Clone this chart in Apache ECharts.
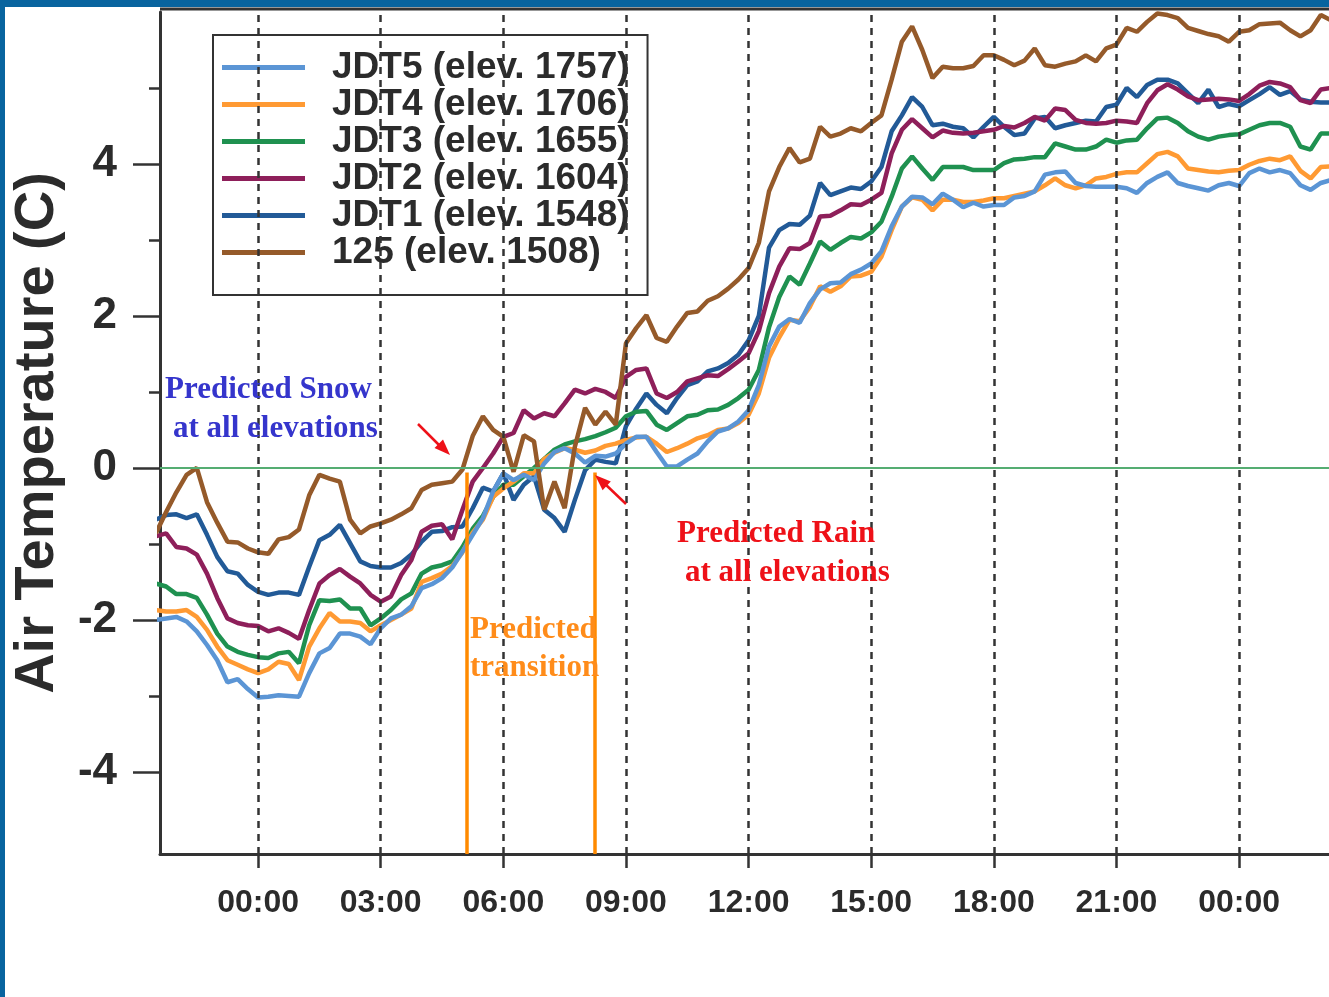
<!DOCTYPE html>
<html lang="en">
  <head>
    <meta charset="UTF-8" />
    <meta name="viewport" content="width=device-width, initial-scale=1.0" />
    <script src="https://cdn.jsdelivr.net/npm/echarts@6/dist/echarts.min.js"></script>
    <title>Air Temperature</title>
    <style>
      html,
      body {
        margin: 0;
        padding: 0;
        background: #fff;
      }
      #app {
        width: 1329px;
        height: 997px;
      }
    </style>
  </head>
  <body>
    <div id="app"></div>

    <script>
      // logger samples every 15 min, first one at 21:30 the evening before (hour -2.5)
      const firstHour = -2.5;
      const stepHours = 0.25;

      const jdt5 = [
        -2.0, -1.98, -1.96, -2.02, -2.15, -2.33, -2.53, -2.82, -2.78, -2.91,
        -3.02, -3.01, -2.99, -3.0, -3.01, -2.7, -2.44, -2.37, -2.18, -2.18,
        -2.22, -2.32, -2.11, -1.98, -1.93, -1.82, -1.58, -1.53, -1.45, -1.31,
        -1.1, -0.88, -0.66, -0.31, -0.07, -0.16, -0.09, -0.16, 0.06, 0.21,
        0.26, 0.19, 0.07, 0.16, 0.15, 0.19, 0.32, 0.41, 0.41, 0.21,
        0.02, 0.02, 0.11, 0.19, 0.35, 0.48, 0.52, 0.61, 0.76, 1.09,
        1.6, 1.86, 1.96, 1.91, 2.17, 2.35, 2.43, 2.44, 2.55, 2.61,
        2.69, 2.85, 3.18, 3.44, 3.57, 3.56, 3.47, 3.61, 3.53, 3.43,
        3.49, 3.44, 3.46, 3.46, 3.56, 3.58, 3.64, 3.86, 3.89, 3.9,
        3.75, 3.71, 3.7, 3.7, 3.7, 3.68, 3.62, 3.75, 3.83, 3.89,
        3.75, 3.71, 3.68, 3.65, 3.72, 3.75, 3.71, 3.88, 3.94, 3.89,
        3.92, 3.88, 3.72, 3.66, 3.75, 3.79,
      ];
      const jdt4 = [
        -1.87, -1.89, -1.89, -1.87, -1.96, -2.13, -2.35, -2.53, -2.59, -2.65,
        -2.7, -2.65, -2.55, -2.58, -2.79, -2.35, -2.11, -1.91, -2.02, -2.02,
        -2.04, -2.15, -2.07, -2.0, -1.93, -1.85, -1.5, -1.45, -1.39, -1.29,
        -1.11, -0.85, -0.68, -0.38, -0.27, -0.18, -0.07, -0.07, 0.12, 0.2,
        0.26, 0.24, 0.2, 0.23, 0.29, 0.32, 0.37, 0.4, 0.41, 0.32,
        0.21, 0.26, 0.32, 0.39, 0.43, 0.5, 0.52, 0.59, 0.7, 0.98,
        1.45, 1.72, 1.95, 1.93, 2.12, 2.39, 2.32, 2.39, 2.52, 2.53,
        2.58, 2.78, 3.13, 3.44, 3.56, 3.53, 3.39, 3.53, 3.53, 3.5,
        3.5, 3.52, 3.55, 3.55, 3.58, 3.61, 3.64, 3.72, 3.81, 3.72,
        3.68, 3.72, 3.81, 3.83, 3.87, 3.89, 3.89, 4.01, 4.13, 4.16,
        4.1, 3.94, 3.92, 3.9, 3.89, 3.91, 3.92, 3.99, 4.04, 4.07,
        4.05, 4.1, 3.91, 3.81, 3.96, 3.97,
      ];
      const jdt3 = [
        -1.52, -1.56, -1.66, -1.66, -1.71, -1.93, -2.18, -2.35, -2.42, -2.46,
        -2.49, -2.5, -2.44, -2.42, -2.57, -2.07, -1.74, -1.75, -1.73, -1.85,
        -1.85, -2.07, -1.98, -1.87, -1.73, -1.65, -1.39, -1.31, -1.28, -1.23,
        -1.04, -0.8, -0.63, -0.38, -0.22, -0.22, -0.11, 0.0, 0.12, 0.24,
        0.31, 0.35, 0.38, 0.42, 0.47, 0.53, 0.68, 0.74, 0.75, 0.57,
        0.5, 0.59, 0.68, 0.7, 0.76, 0.77, 0.83, 0.92, 1.03, 1.29,
        1.85, 2.25, 2.52, 2.41, 2.69, 2.98, 2.87, 2.96, 3.04, 3.02,
        3.1, 3.24, 3.57, 3.94, 4.1, 3.94, 3.79, 3.96, 3.96, 3.96,
        3.92, 3.92, 3.92, 4.01, 4.06, 4.07, 4.09, 4.09, 4.27, 4.23,
        4.19, 4.19, 4.23, 4.32, 4.28, 4.31, 4.32, 4.47, 4.6, 4.61,
        4.54, 4.43, 4.36, 4.32, 4.36, 4.38, 4.39, 4.45, 4.51, 4.54,
        4.54, 4.49, 4.23, 4.19, 4.4, 4.4,
      ];
      const jdt2 = [
        -0.9, -0.86, -1.04, -1.06, -1.14, -1.39, -1.71, -1.98, -2.04, -2.07,
        -2.08, -2.15, -2.11, -2.17, -2.25, -1.87, -1.52, -1.41, -1.33, -1.43,
        -1.52, -1.67, -1.76, -1.69, -1.41, -1.21, -0.84, -0.76, -0.74, -0.94,
        -0.55, -0.18, 0.0, 0.19, 0.41, 0.46, 0.76, 0.65, 0.72, 0.68,
        0.85, 1.03, 0.98, 1.04, 1.0, 0.92, 1.2, 1.29, 1.31, 0.98,
        0.92, 1.0, 1.14, 1.18, 1.22, 1.21, 1.3, 1.4, 1.51, 1.8,
        2.3, 2.65, 2.89, 2.88, 2.96, 3.31, 3.32, 3.39, 3.47, 3.46,
        3.53, 3.62, 4.14, 4.45, 4.59, 4.47, 4.35, 4.44, 4.41, 4.4,
        4.41, 4.43, 4.45, 4.5, 4.48, 4.54, 4.62, 4.57, 4.73, 4.71,
        4.58, 4.54, 4.53, 4.54, 4.57, 4.56, 4.54, 4.8, 4.97, 5.05,
        4.98, 4.89, 4.84, 4.85, 4.86, 4.85, 4.83, 4.92, 5.03, 5.08,
        5.06, 5.01, 4.84, 4.8, 4.98, 5.0,
      ];
      const jdt1 = [
        -0.68, -0.62, -0.61, -0.66, -0.61, -0.88, -1.17, -1.36, -1.39, -1.54,
        -1.63, -1.67, -1.64, -1.64, -1.67, -1.3, -0.95, -0.88, -0.75, -0.99,
        -1.23, -1.29, -1.31, -1.31, -1.25, -1.14, -0.97, -0.84, -0.83, -0.78,
        -0.77, -0.53, -0.26, -0.31, -0.07, -0.42, -0.22, -0.11, -0.55, -0.66,
        -0.84, -0.42, -0.03, 0.11, 0.08, 0.06, 0.55, 0.78, 0.98, 0.83,
        0.72, 0.92, 1.09, 1.14, 1.27, 1.31, 1.38, 1.49, 1.68, 2.0,
        2.9, 3.13, 3.21, 3.2, 3.32, 3.75, 3.59, 3.64, 3.69, 3.67,
        3.77, 3.96, 4.43, 4.64, 4.88, 4.75, 4.51, 4.53, 4.49, 4.47,
        4.35, 4.49, 4.62, 4.49, 4.38, 4.4, 4.6, 4.62, 4.47, 4.51,
        4.54, 4.57, 4.56, 4.75, 4.78, 5.0, 4.88, 5.04, 5.11, 5.11,
        5.06, 4.93, 4.8, 4.98, 4.75, 4.79, 4.76, 4.84, 4.92, 5.01,
        4.91, 4.96, 4.85, 4.82, 4.81, 4.81,
      ];
      const st125 = [
        -0.86, -0.58, -0.32, -0.09, 0.0, -0.45, -0.72, -0.97, -0.98, -1.06,
        -1.11, -1.13, -0.94, -0.91, -0.81, -0.36, -0.09, -0.14, -0.18, -0.68,
        -0.86, -0.77, -0.73, -0.68, -0.61, -0.53, -0.29, -0.22, -0.2, -0.18,
        -0.02, 0.42, 0.68, 0.5, 0.41, -0.05, 0.43, 0.35, -0.55, -0.18,
        -0.53, 0.28, 0.79, 0.57, 0.74, 0.57, 1.64, 1.84, 2.01, 1.71,
        1.66, 1.86, 2.04, 2.06, 2.2, 2.26, 2.36, 2.48, 2.63, 2.96,
        3.64, 3.96, 4.21, 4.02, 4.07, 4.49, 4.36, 4.4, 4.47, 4.43,
        4.54, 4.64, 5.11, 5.61, 5.81, 5.5, 5.13, 5.28, 5.26, 5.26,
        5.29, 5.43, 5.43, 5.37, 5.3, 5.36, 5.52, 5.3, 5.28, 5.32,
        5.35, 5.43, 5.35, 5.52, 5.57, 5.79, 5.74, 5.87, 5.98, 5.96,
        5.92, 5.79, 5.75, 5.71, 5.68, 5.61, 5.74, 5.76, 5.84, 5.85,
        5.86, 5.76, 5.68, 5.76, 5.96, 5.89,
      ];

      const stations = [
        { name: "JDT5 (elev. 1757)", values: jdt5, color: "#5b95d5" },
        { name: "JDT4 (elev. 1706)", values: jdt4, color: "#ff9a33" },
        { name: "JDT3 (elev. 1655)", values: jdt3, color: "#1f9150" },
        { name: "JDT2 (elev. 1604)", values: jdt2, color: "#8e1f5a" },
        { name: "JDT1 (elev. 1548)", values: jdt1, color: "#225a97" },
        { name: "125 (elev. 1508)", values: st125, color: "#955a2a" },
      ];
      // draw order: JDT1 at the back, 125 on top
      const drawOrder = [4, 3, 2, 1, 0, 5];

      const hourTicks = [0, 3, 6, 9, 12, 15, 18, 21, 24];
      const majorY = [-4, -2, 0, 2, 4];
      const minorY = [-3, -1, 1, 3, 5];
      const transitionHours = [5.1, 8.23];

      const ink = "#2b2b2b";
      const sans = "Liberation Sans";
      const serif = "Liberation Serif";

      function hourLabel(v) {
        const h = ((Math.round(v) % 24) + 24) % 24;
        return (h < 10 ? "0" : "") + h + ":00";
      }

      const chart = echarts.init(document.getElementById("app"));

      const series = [
        {
          // background guides: 3-hourly dashed lines and the 0 C line
          name: "guides",
          type: "line",
          data: [],
          silent: true,
          markLine: {
            silent: true,
            symbol: ["none", "none"],
            label: { show: false },
            animation: false,
            data: hourTicks
              .map((h) => ({
                xAxis: h,
                lineStyle: { color: "#333", width: 2.5, type: [7, 6] },
              }))
              .concat([
                { yAxis: 0, lineStyle: { color: "#55ad72", width: 2, type: "solid" } },
              ]),
          },
        },
      ];

      drawOrder.forEach((i) => {
        const s = stations[i];
        series.push({
          name: s.name,
          type: "line",
          symbol: "none",
          color: s.color,
          lineStyle: { width: 4.5, color: s.color },
          data: s.values.map((v, k) => [firstHour + k * stepHours, v]),
        });
      });

      series.push({
        name: "transition",
        type: "line",
        data: [],
        silent: true,
        markLine: {
          silent: true,
          symbol: ["none", "none"],
          label: { show: false },
          animation: false,
          lineStyle: { color: "#ff8a00", width: 3.5, type: "solid" },
          data: transitionHours.map((h) => [
            { coord: [h, -0.06] },
            { coord: [h, -5.08] },
          ]),
        },
      });

      const blue = "#08649f";

      chart.setOption({
        animation: false,
        backgroundColor: "#fff",
        grid: {
          left: 160,
          right: 0,
          top: 12,
          bottom: 143,
          containLabel: false,
          outerBoundsMode: "none",
        },
        legend: {
          data: stations.map((s) => s.name),
          orient: "vertical",
          left: 213,
          top: 35,
          icon: "rect",
          itemWidth: 83,
          itemHeight: 5,
          itemGap: 0,
          padding: [14, 18, 24, 9],
          backgroundColor: "#fff",
          borderColor: "#333",
          borderWidth: 2,
          selectedMode: false,
          textStyle: {
            fontFamily: sans,
            fontWeight: "bold",
            fontSize: 37,
            lineHeight: 37,
            color: ink,
            padding: [0, 0, 0, 22],
          },
        },
        xAxis: {
          type: "value",
          min: -2.4,
          max: 26.2,
          axisLine: { onZero: false, lineStyle: { color: "#333", width: 3 } },
          axisTick: {
            customValues: hourTicks,
            length: 14,
            lineStyle: { color: "#333", width: 2.5 },
          },
          axisLabel: {
            customValues: hourTicks,
            formatter: hourLabel,
            margin: 33,
            fontFamily: sans,
            fontWeight: "bold",
            fontSize: 32,
            color: ink,
          },
          splitLine: { show: false },
        },
        yAxis: [
          {
            type: "value",
            min: -5.08,
            max: 6,
            name: "Air Temperature (C)",
            nameLocation: "middle",
            nameRotate: 90,
            nameGap: 94,
            nameTextStyle: {
              fontFamily: sans,
              fontWeight: "bold",
              fontSize: 56,
              color: ink,
            },
            axisLine: { show: true, onZero: false, lineStyle: { color: "#333", width: 3 } },
            axisTick: {
              show: true,
              customValues: majorY,
              length: 27,
              lineStyle: { color: "#333", width: 2.5 },
            },
            axisLabel: {
              customValues: majorY,
              margin: 43,
              fontFamily: sans,
              fontWeight: "bold",
              fontSize: 44,
              color: ink,
            },
            splitLine: { show: false },
          },
          {
            type: "value",
            min: -5.08,
            max: 6,
            position: "left",
            axisLine: { show: false, onZero: false },
            axisTick: {
              show: true,
              customValues: minorY,
              length: 11,
              lineStyle: { color: "#333", width: 2.5 },
            },
            axisLabel: { show: false },
            splitLine: { show: false },
          },
        ],
        series: series,
        graphic: [
          { type: "rect", shape: { x: 0, y: 0, width: 1329, height: 7 }, style: { fill: blue }, z: 100 },
          { type: "rect", shape: { x: 0, y: 0, width: 5, height: 997 }, style: { fill: blue }, z: 100 },
          { type: "line", shape: { x1: 160, y1: 9, x2: 1329, y2: 9 }, style: { stroke: "#333", lineWidth: 3 }, z: 100 },
          {
            type: "text",
            x: 165,
            y: 390,
            z: 100,
            style: { text: "Predicted Snow", font: "bold 31px " + serif, fill: "#3535cc", verticalAlign: "middle" },
          },
          {
            type: "text",
            x: 173,
            y: 429,
            z: 100,
            style: { text: "at all elevations", font: "bold 31px " + serif, fill: "#3535cc", verticalAlign: "middle" },
          },
          {
            type: "text",
            x: 677,
            y: 534,
            z: 100,
            style: { text: "Predicted Rain", font: "bold 31px " + serif, fill: "#ee1118", verticalAlign: "middle" },
          },
          {
            type: "text",
            x: 685,
            y: 573,
            z: 100,
            style: { text: "at all elevations", font: "bold 31px " + serif, fill: "#ee1118", verticalAlign: "middle" },
          },
          {
            type: "text",
            x: 470,
            y: 630,
            z: 100,
            style: { text: "Predicted", font: "bold 31px " + serif, fill: "#ff8c1a", verticalAlign: "middle" },
          },
          {
            type: "text",
            x: 470,
            y: 668,
            z: 100,
            style: { text: "transition", font: "bold 31px " + serif, fill: "#ff8c1a", verticalAlign: "middle" },
          },
          // arrows pointing at the first crossing and the last crossing of 0 C
          { type: "line", shape: { x1: 418, y1: 424, x2: 441, y2: 447 }, style: { stroke: "#ee1118", lineWidth: 2.5 }, z: 100 },
          {
            type: "polygon",
            shape: { points: [[450, 455], [434.5, 448], [443, 439.5]] },
            style: { fill: "#ee1118" },
            z: 100,
          },
          { type: "line", shape: { x1: 626, y1: 504, x2: 604, y2: 483 }, style: { stroke: "#ee1118", lineWidth: 2.5 }, z: 100 },
          {
            type: "polygon",
            shape: { points: [[595, 475], [610.8, 481.5], [602.6, 490.3]] },
            style: { fill: "#ee1118" },
            z: 100,
          },
        ],
      });
    </script>
  </body>
</html>
